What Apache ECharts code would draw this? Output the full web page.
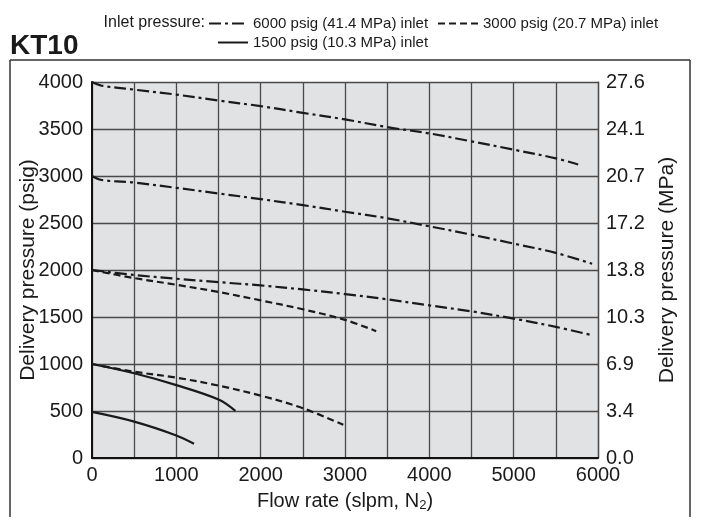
<!DOCTYPE html>
<html><head><meta charset="utf-8">
<script src="https://cdn.jsdelivr.net/npm/echarts@6/dist/echarts.min.js"></script>
<style>html,body{margin:0;padding:0;background:#fff}#c{width:703px;height:517px}</style>
</head><body><div id="c"></div>
<script>
// Series data: [flow (slpm), delivery pressure (psig)]
const in6000_set4000 = [[0,4000],[110,3962],[500,3919],[1000,3866],[1500,3803],[2000,3743],[2500,3672],[3000,3602],[3500,3520],[4000,3453],[4500,3368],[5000,3280],[5500,3188],[5765,3122]];
const in6000_set3000 = [[0,3000],[110,2958],[500,2930],[1000,2874],[1500,2814],[2000,2754],[2500,2690],[3000,2620],[3500,2550],[4000,2465],[4500,2376],[5000,2281],[5500,2182],[5930,2066]];
const in6000_set2000 = [[0,2000],[500,1947],[1000,1907],[1500,1871],[2000,1836],[2500,1793],[3000,1744],[3500,1688],[4000,1624],[4500,1560],[5000,1483],[5500,1395],[5930,1306]];
const in3000_set2000 = [[0,2000],[500,1914],[1000,1843],[1500,1766],[2000,1677],[2500,1582],[3000,1470],[3370,1349]];
const in3000_set1000 = [[0,1000],[500,918],[1000,855],[1500,770],[2000,664],[2500,530],[2980,353]];
const in1500_set1000 = [[0,1000],[500,901],[1000,775],[1500,622],[1700,501]];
const in1500_set500 = [[0,490],[500,387],[1000,240],[1210,151]];

const xTicks = [0,1000,2000,3000,4000,5000,6000];
const mpaLabels = ['0.0','3.4','6.9','10.3','13.8','17.2','20.7','24.1','27.6'];
const name6000 = '6000 psig (41.4 MPa) inlet';
const name3000 = '3000 psig (20.7 MPa) inlet';
const name1500 = '1500 psig (10.3 MPa) inlet';

const FONT = '"Liberation Sans", Arial, sans-serif';
const INK = '#1a1a1a';
const dashDot = [12, 4, 3, 4];
const dashed = [7, 4];

function mk(name, data, type) {
  return {
    name: name, type: 'line', data: data, smooth: 0.35, symbol: 'none',
    lineStyle: { color: INK, width: 2.2, type: type },
    itemStyle: { color: INK },
    z: 5
  };
}
function leg(name, left, top, w) {
  return {
    data: [name], left: left, top: top, itemWidth: w, itemHeight: 14, padding: 0,
    itemStyle: { opacity: 0, borderWidth: 0 },
    textStyle: { fontFamily: FONT, fontSize: 15, color: INK }
  };
}

const chart = echarts.init(document.getElementById('c'), null, { renderer: 'canvas' });
chart.setOption({
  animation: false,
  backgroundColor: '#ffffff',
  title: {
    text: 'KT10', left: 10, top: 32, padding: 0,
    textStyle: { fontFamily: FONT, fontSize: 28, fontWeight: 'bold', color: INK }
  },
  legend: [
    leg(name6000, 208, 16, 39),
    leg(name3000, 437, 16, 40),
    leg(name1500, 217, 35, 30)
  ],
  graphic: [
    { type: 'text', right: 703 - 205, top: 15, style: { text: 'Inlet pressure:', font: '16px ' + FONT, fill: INK } },
    { type: 'line', shape: { x1: 10, y1: 60, x2: 690, y2: 60 }, style: { stroke: '#333', lineWidth: 1.5 } },
    { type: 'line', shape: { x1: 10, y1: 60, x2: 10, y2: 517 }, style: { stroke: '#333', lineWidth: 1.5 } },
    { type: 'line', shape: { x1: 690, y1: 60, x2: 690, y2: 517 }, style: { stroke: '#333', lineWidth: 1.5 } }
  ],
  grid: {
    left: 92, top: 82, width: 506, height: 378, show: true,
    backgroundColor: '#e1e2e4', borderWidth: 0, containLabel: false
  },
  xAxis: {
    type: 'value', min: 0, max: 6000, interval: 500,
    name: 'Flow rate (slpm, N{sub|2})', nameLocation: 'middle', nameGap: 32, nameMoveOverlap: false,
    nameTextStyle: { fontFamily: FONT, fontSize: 20, color: INK,
      rich: { sub: { fontFamily: FONT, fontSize: 13, color: INK, verticalAlign: 'bottom', padding: [9, 0, 0, 0] } } },
    axisLine: { show: true, lineStyle: { color: '#111', width: 2 } },
    axisTick: { show: false },
    axisLabel: {
      fontFamily: FONT, fontSize: 20, color: INK, margin: 7,
      formatter: v => (xTicks.indexOf(v) >= 0 ? String(v) : '')
    },
    splitLine: { show: true, lineStyle: { color: '#4a4a4a', width: 1.3 } }
  },
  yAxis: [
    {
      type: 'value', min: 0, max: 4000, interval: 500, position: 'left',
      name: 'Delivery pressure (psig)', nameLocation: 'middle', nameGap: 64, nameRotate: 90, nameMoveOverlap: false,
      nameTextStyle: { fontFamily: FONT, fontSize: 21, color: INK, verticalAlign: 'middle' },
      axisLine: { show: true, lineStyle: { color: '#111', width: 2 } },
      axisTick: { show: false },
      axisLabel: { fontFamily: FONT, fontSize: 20, color: INK, margin: 9, formatter: v => String(v) },
      splitLine: { show: true, lineStyle: { color: '#4a4a4a', width: 1.3 } }
    },
    {
      type: 'value', min: 0, max: 4000, interval: 500, position: 'right',
      name: 'Delivery pressure (MPa)', nameLocation: 'middle', nameGap: 69, nameRotate: 90, nameMoveOverlap: false,
      nameTextStyle: { fontFamily: FONT, fontSize: 21, color: INK, verticalAlign: 'middle' },
      axisLine: { show: true, lineStyle: { color: '#4a4a4a', width: 1.3 } },
      axisTick: { show: false },
      axisLabel: { fontFamily: FONT, fontSize: 20, color: INK, margin: 8,
        formatter: v => mpaLabels[Math.round(v / 500)] },
      splitLine: { show: false }
    }
  ],
  series: [
    mk(name6000, in6000_set4000, dashDot),
    mk(name6000, in6000_set3000, dashDot),
    mk(name6000, in6000_set2000, dashDot),
    mk(name3000, in3000_set2000, dashed),
    mk(name3000, in3000_set1000, dashed),
    mk(name1500, in1500_set1000, 'solid'),
    mk(name1500, in1500_set500, 'solid')
  ]
});
</script></body></html>
